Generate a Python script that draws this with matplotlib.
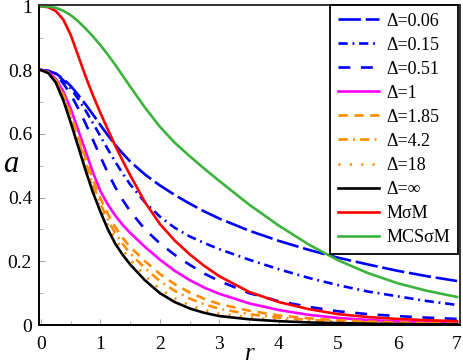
import matplotlib
matplotlib.use("Agg")
import matplotlib.pyplot as plt
from matplotlib.ticker import MultipleLocator

plt.rcParams['font.family'] = ['Liberation Serif', 'DejaVu Serif']

# r grid shared by all curves (finer where the curves bend fast)
r = [0, 0.125, 0.25, 0.375, 0.5, 0.625, 0.75, 0.875, 1, 1.125, 1.25, 1.375, 1.5,
     1.75, 2, 2.25, 2.5, 2.75, 3, 3.5, 4, 4.5, 5, 5.5, 6, 6.5, 7]

a_d006 = [0.8, 0.797, 0.789, 0.772, 0.75, 0.722, 0.692, 0.66, 0.627, 0.595, 0.565, 0.538, 0.513,
          0.472, 0.438, 0.408, 0.381, 0.356, 0.334, 0.296, 0.264, 0.236, 0.211, 0.19, 0.17, 0.153, 0.138]
a_d015 = [0.8, 0.797, 0.787, 0.768, 0.742, 0.71, 0.673, 0.633, 0.592, 0.551, 0.512, 0.475, 0.441,
          0.385, 0.34, 0.305, 0.278, 0.257, 0.238, 0.205, 0.175, 0.148, 0.125, 0.105, 0.09, 0.075, 0.063]
a_d051 = [0.8, 0.796, 0.783, 0.758, 0.723, 0.68, 0.632, 0.58, 0.528, 0.477, 0.432, 0.392, 0.357,
          0.3, 0.256, 0.22, 0.189, 0.161, 0.138, 0.1, 0.075, 0.057, 0.043, 0.034, 0.028, 0.023, 0.019]
a_d1 = [0.8, 0.793, 0.772, 0.733, 0.678, 0.612, 0.545, 0.478, 0.42, 0.378, 0.343, 0.314, 0.289,
        0.245, 0.205, 0.17, 0.141, 0.117, 0.098, 0.068, 0.047, 0.032, 0.022, 0.016, 0.011, 0.008, 0.006]
a_d185 = [0.8, 0.792, 0.768, 0.723, 0.662, 0.592, 0.522, 0.455, 0.397, 0.348, 0.307, 0.273, 0.245,
          0.2, 0.16, 0.128, 0.102, 0.082, 0.066, 0.045, 0.03, 0.021, 0.015, 0.011, 0.008, 0.006, 0.004]
a_d42 = [0.8, 0.791, 0.765, 0.716, 0.652, 0.58, 0.508, 0.44, 0.38, 0.33, 0.288, 0.254, 0.225,
         0.178, 0.138, 0.107, 0.083, 0.065, 0.051, 0.034, 0.023, 0.016, 0.011, 0.008, 0.006, 0.004, 0.003]
a_d18 = [0.8, 0.79, 0.762, 0.71, 0.643, 0.57, 0.495, 0.425, 0.365, 0.313, 0.27, 0.235, 0.205,
         0.155, 0.113, 0.084, 0.062, 0.047, 0.036, 0.024, 0.016, 0.011, 0.008, 0.005, 0.004, 0.003, 0.002]
a_dinf = [0.8, 0.79, 0.76, 0.705, 0.635, 0.56, 0.485, 0.415, 0.355, 0.3, 0.255, 0.22, 0.19,
          0.14, 0.1, 0.072, 0.052, 0.038, 0.028, 0.018, 0.012, 0.008, 0.006, 0.004, 0.003, 0.002, 0.002]
a_msm = [1.0, 0.997, 0.985, 0.958, 0.91, 0.845, 0.78, 0.72, 0.665, 0.613, 0.562, 0.515, 0.47,
         0.385, 0.317, 0.265, 0.222, 0.185, 0.153, 0.104, 0.072, 0.05, 0.034, 0.025, 0.019, 0.015, 0.012]
a_mcs = [1.0, 0.999, 0.995, 0.986, 0.972, 0.953, 0.93, 0.905, 0.878, 0.848, 0.816, 0.782, 0.748,
         0.682, 0.622, 0.572, 0.53, 0.49, 0.452, 0.378, 0.312, 0.253, 0.203, 0.163, 0.131, 0.107, 0.088]

labels = ['Δ=0.06', 'Δ=0.15', 'Δ=0.51', 'Δ=1', 'Δ=1.85', 'Δ=4.2', 'Δ=18', 'Δ=∞', 'MσM', 'MCSσM']
series = [a_d006, a_d015, a_d051, a_d1, a_d185, a_d42, a_d18, a_dinf, a_msm, a_mcs]

x_ticks = [0, 1, 2, 3, 4, 5, 6, 7]
y_ticks = [0, 0.2, 0.4, 0.6, 0.8, 1]
y_tick_labels = ['0', '0.2', '0.4', '0.6', '0.8', '1']

blue = '#0000ff'
orange = '#ff8c00'
styles = [
    dict(color=blue, dashes=(8.5, 1.8)),
    dict(color=blue, dashes=(3.5, 1.8, 0.7, 1.8)),
    dict(color=blue, dashes=(4.5, 4.0)),
    dict(color='#ff00ff', linestyle='-'),
    dict(color=orange, dashes=(3.5, 2.5)),
    dict(color=orange, dashes=(3.5, 2.0, 0.7, 2.0)),
    dict(color=orange, dashes=(0.8, 3.5)),
    dict(color='black', linestyle='-'),
    dict(color='#ff0000', linestyle='-'),
    dict(color='#3cb33c', linestyle='-'),
]

fig = plt.figure(figsize=(4.64, 3.64), dpi=100)
ax = fig.add_axes([39 / 464, 1 - 325 / 364, 421 / 464, 320 / 364])

for vals, lab, st in zip(series, labels, styles):
    ax.plot(r, vals, lw=1.9, label=lab, **st)

ax.set_xlim(-0.034, 7.05)
ax.set_ylim(0, 1.004)
ax.set_xticks(x_ticks)
ax.set_yticks(y_ticks)
ax.set_yticklabels(y_tick_labels)
ax.xaxis.set_minor_locator(MultipleLocator(0.5))
ax.yaxis.set_minor_locator(MultipleLocator(0.1))
ax.tick_params(which='both', direction='in', color='#aaaaaa', labelsize=14)
ax.tick_params(which='major', length=4, width=0.8)
ax.tick_params(which='minor', length=3, width=0.6)
ax.tick_params(axis='x', pad=8)
ax.tick_params(axis='y', pad=5)
for sp in ax.spines.values():
    sp.set_linewidth(1.4)
ax.spines['top'].set_color('#333333')
ax.spines['right'].set_color('#333333')

ax.set_xlabel('r', fontstyle='italic', fontsize=18, labelpad=-7)
ax.set_ylabel('a', fontstyle='italic', fontsize=22, rotation=0, va='center')
ax.yaxis.set_label_coords(-0.068, 0.5)

leg = ax.legend(loc='upper right', bbox_to_anchor=(0.995, 1.0), fontsize=13,
                frameon=True, fancybox=False, framealpha=1, edgecolor='black',
                handlelength=2.3, handletextpad=0.4, labelspacing=0.39,
                borderpad=0.42, borderaxespad=0.0)
leg.get_frame().set_linewidth(1.3)

fig.savefig('out.png', dpi=100)
